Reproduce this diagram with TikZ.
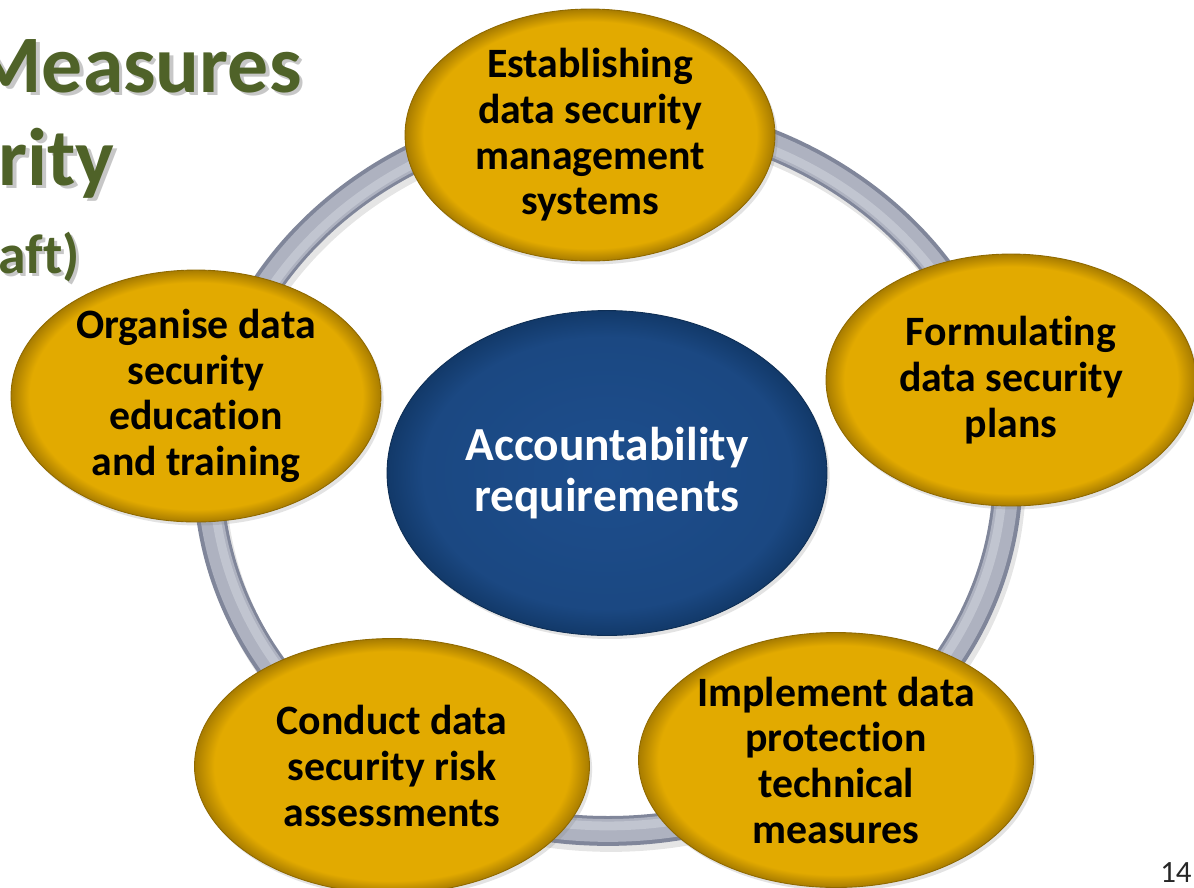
\documentclass[tikz,border=0pt]{standalone}
\usepackage{fontspec}
\setmainfont{Carlito}[Ligatures={NoCommon}]
\usepackage{tikz}
\usetikzlibrary{shapes, shadows, positioning}
\usepackage{xcolor}
\definecolor{titlegreen}{HTML}{4F6228}
\definecolor{gold}{HTML}{E2AA00}
\definecolor{golddark}{HTML}{A87C00}
\definecolor{hubblue}{HTML}{1D4E8D}
\definecolor{hubdark}{HTML}{123969}
\definecolor{ringgray}{HTML}{AEB2C0}
\definecolor{ringdark}{HTML}{80869A}
\definecolor{ringlight}{HTML}{C9CDD7}
\pgfdeclareradialshading{goldrim}{\pgfpoint{0bp}{0bp}}{%
    color(0bp)=(gold); color(22.5bp)=(gold);
    color(25bp)=(golddark); color(50bp)=(golddark)}
\pgfdeclareradialshading{bluerim}{\pgfpoint{0bp}{0bp}}{%
    color(0bp)=(hubblue); color(21bp)=(hubblue!92!black);
    color(25bp)=(hubdark); color(50bp)=(hubdark)}
\newcommand\shadowed[1]{\rlap{\kern2pt\raisebox{-2pt}{\textcolor{black!22}{#1}}}#1}
\tikzset{%
    % Steps placed round the ring
    task/.style  = {ellipse, shading=goldrim, draw=golddark!85!black,
    line width=0.5pt, minimum width=7.4cm, minimum height=5.04cm,
    inner xsep=-25pt, inner ysep=-10pt, align=center,
    font=\fontsize{23.8}{26}\selectfont\bfseries,
    drop shadow={opacity=0.22, shadow xshift=1.5pt, shadow yshift=-2pt}},
    % the two lower steps are a little wider
    wide/.style  = {minimum width=7.9cm, minimum height=5.1cm},
    % Centre of the cycle
    hub/.style   = {ellipse, shading=bluerim, draw=hubdark!80!black,
    line width=0.5pt, minimum width=8.8cm, minimum height=6.5cm,
    inner xsep=-10pt, inner ysep=-10pt, align=center, text=white,
    font=\fontsize{27}{29.5}\selectfont\bfseries,
    drop shadow={opacity=0.22, shadow xshift=1.5pt, shadow yshift=-2pt}},
    % Slide title, cut at the left edge
    heading/.style = {text=titlegreen, inner sep=0pt, anchor=base east},
    % The ring behind the steps
    tube/.style  = {line width=17pt}
}

\begin{document}
\begin{tikzpicture}[x=0.02cm, y=-0.02cm]
	\useasboundingbox[fill=white] (0,0) rectangle (1194,887);
	\coordinate (ringc) at (608,472);

	% ring
	\draw[tube, black, opacity=0.10] ([shift={(3,6)}]ringc) ellipse [x radius=8cm, y radius=7.18cm];
	\draw[tube, ringdark] (ringc) ellipse [x radius=8cm, y radius=7.18cm];
	\draw[tube, ringgray, line width=13pt] (ringc) ellipse [x radius=7.99cm, y radius=7.17cm];
	\draw[ringlight!70!ringgray, line width=5pt] (ringc) ellipse [x radius=7.9cm, y radius=7.08cm];

	% title
	\node[heading, font=\fontsize{46.5}{50}\selectfont\bfseries] (ttl1) at (302,92) {\shadowed{Measures}};
	\node[heading, font=\fontsize{46.5}{50}\selectfont\bfseries] (ttl2) at (115,185) {\shadowed{rity}};
	\node[heading, font=\fontsize{31.7}{34}\selectfont\bfseries] (ttl3) at (80,273) {\shadowed{aft)}};

	% centre and steps
	\node[hub] (hub) at (607,473) {Accountability\\requirements};
	\node[task] (est) at (590,135) {Establishing\\data security\\management\\systems};
	\node[task] (plan) at (1011,380) {Formulating\\data security\\plans};
	\node[task, wide] (tech) at (836,760) {Implement data\\protection\\technical\\measures};
	\node[task, wide] (risk) at (392,766) {Conduct data\\security risk\\assessments};
	\node[task] (train) at (196,396) {Organise data\\security\\education\\and training};

	\node[anchor=base east, inner sep=0pt, text=black!85, font=\fontsize{17.6}{20}\selectfont] (pageno) at (1192,882) {14};
\end{tikzpicture}
\end{document}
